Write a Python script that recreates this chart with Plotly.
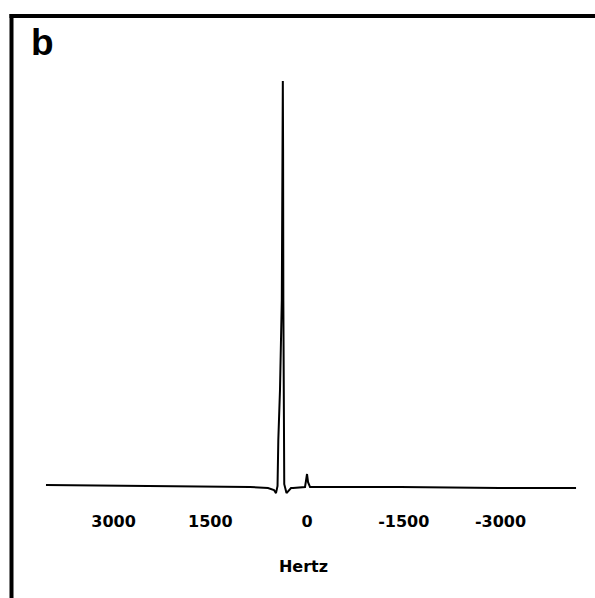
import plotly.graph_objects as go

# Spectrum trace (frequency in Hz, relative intensity)
freq_hz = [4047, 2434, 884, 605, 512, 481, 457, 445, 419, 391, 380, 375, 371,
           367, 364, 353, 318, 295, 248, 217, 109, 31, 16, 0, -16, -47,
           -1442, -2992, -4171]
intensity = [0.5, 0.25, 0.0, -0.25, -0.74, -1.5, 0.25, 11.6, 23.9, 46, 83, 100, 83,
             46, 11.6, 0.7, -1.5, -1.0, -0.25, -0.25, 0.0, 0.0, 1.5, 3.2, 1.2, 0.0,
             0.0, -0.25, -0.25]

tick_vals = [3000, 1500, 0, -1500, -3000]
tick_text = ["3000", "1500", "0", "-1500", "-3000"]
panel_label = "b"
x_title = "Hertz"

fig = go.Figure()
fig.add_trace(go.Scatter(x=freq_hz, y=intensity, mode="lines",
                         line=dict(color="black", width=2), hoverinfo="skip",
                         showlegend=False))

W, H = 595, 598
L, T, B = 12, 16, 98
fig.update_layout(
    width=W, height=H,
    margin=dict(l=L, r=0, t=T, b=B),
    paper_bgcolor="white", plot_bgcolor="white",
    xaxis=dict(range=[4574, -4465], tickvals=tick_vals, ticktext=tick_text,
               showgrid=False, zeroline=False, showline=False,
               ticks="outside", ticklen=7, tickcolor="rgba(0,0,0,0)",
               tickfont=dict(family="DejaVu Sans", size=16, color="black", weight="bold"),
               title=dict(text=x_title, standoff=30,
                          font=dict(family="DejaVu Sans", size=16, color="black", weight="bold"))),
    yaxis=dict(range=[-3.2, 116], showgrid=False, zeroline=False, showline=False,
               showticklabels=False, ticks=""),
    font=dict(family="DejaVu Sans", color="black"),
)

plot_h = H - T - B
plot_w = W - L
def px(xp):
    return (xp - L) / plot_w
def py(yp):
    return 1 - (yp - T) / plot_h

# frame: thick top and left borders
fig.add_shape(type="line", xref="paper", yref="paper",
              x0=px(9.5), x1=px(595), y0=py(16), y1=py(16),
              line=dict(color="black", width=4))
fig.add_shape(type="line", xref="paper", yref="paper",
              x0=px(11.5), x1=px(11.5), y0=py(14), y1=py(598),
              line=dict(color="black", width=4))

fig.add_annotation(text=panel_label, xref="paper", yref="paper",
                   x=px(29), y=py(20), xanchor="left", yanchor="top",
                   showarrow=False,
                   font=dict(family="Liberation Sans", size=37, color="black", weight="bold"))

fig.write_html("out.html")
